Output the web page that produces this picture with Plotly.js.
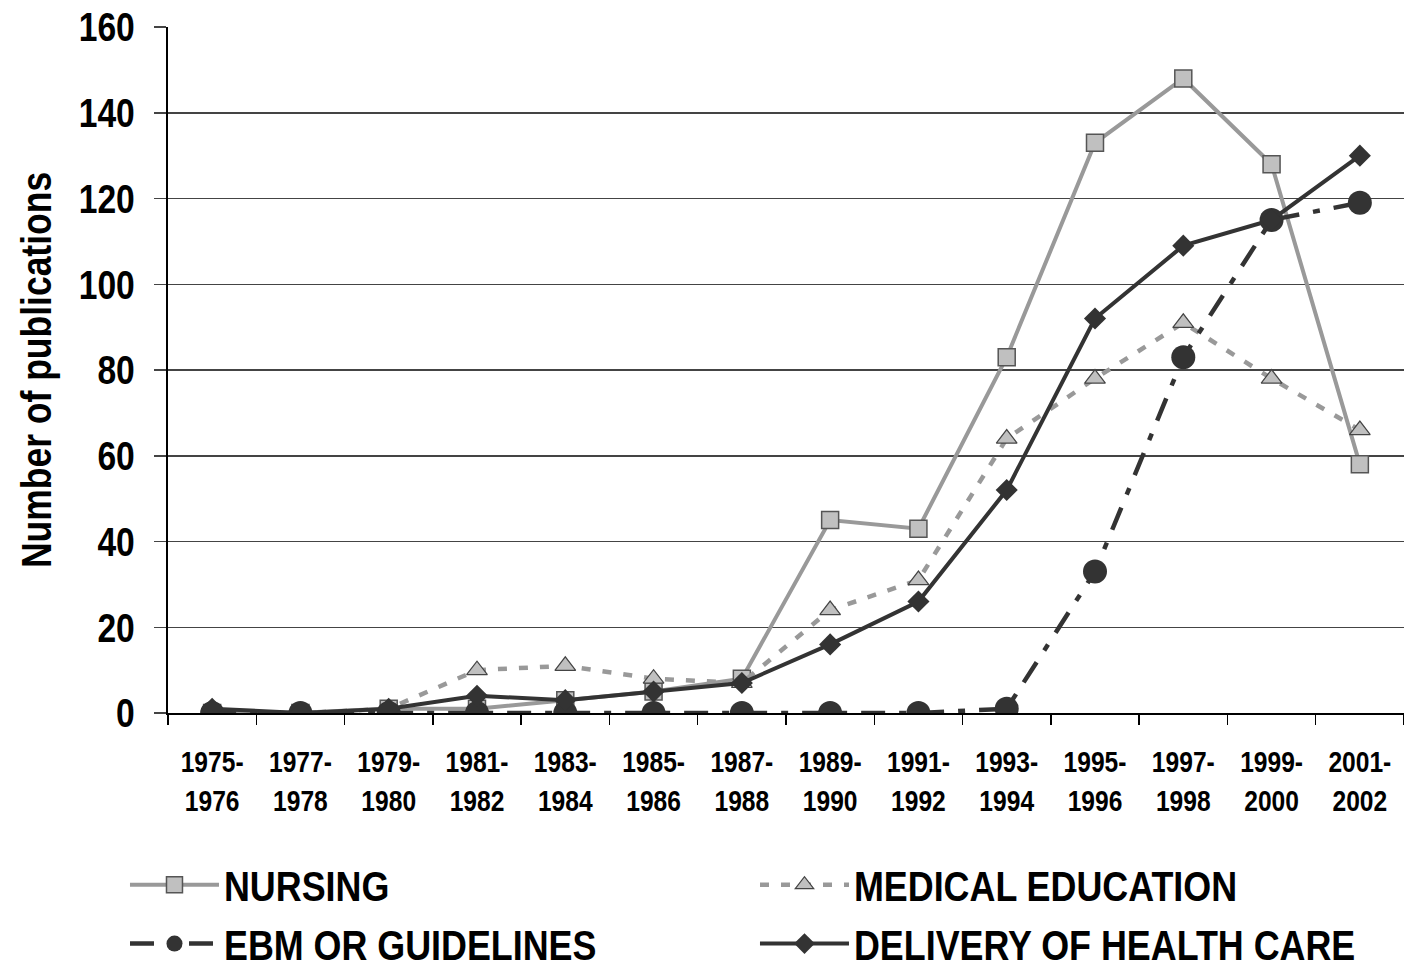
<!DOCTYPE html>
<html>
<head>
<meta charset="utf-8">
<script src="https://cdn.plot.ly/plotly-3.0.1.min.js"></script>
<style>
html,body{margin:0;padding:0;background:#fff;}
#chart{width:1404px;height:968px;}
</style>
</head>
<body>
<div id="chart"></div>
<script>
var categories = ["1975-<br>1976","1977-<br>1978","1979-<br>1980","1981-<br>1982","1983-<br>1984","1985-<br>1986","1987-<br>1988","1989-<br>1990","1991-<br>1992","1993-<br>1994","1995-<br>1996","1997-<br>1998","1999-<br>2000","2001-<br>2002"];
var nursing = [0,0,1,1,3,5,8,45,43,83,133,148,128,58];
var medicalEducation = [0,0,1,10,11,8,7,24,31,64,78,91,78,66];
var ebm = [0,0,0,0,0,0,0,0,0,1,33,83,115,119];
var delivery = [1,0,1,4,3,5,7,16,26,52,92,109,115,130];
var yTicks = [0,20,40,60,80,100,120,140,160];

var FONT = "Liberation Sans, Arial, sans-serif";

var traces = [
  {x: categories, y: nursing, name: "NURSING", type: "scatter", mode: "lines+markers",
   line: {color: "#999999", width: 4},
   marker: {symbol: "square", size: 17, color: "#c0c0c0", line: {color: "#555555", width: 1.5}}},
  {x: categories, y: medicalEducation, name: "MEDICAL EDUCATION", type: "scatter", mode: "lines+markers",
   line: {color: "#999999", width: 4.5, dash: "9px,12px"},
   marker: {symbol: "triangle-up", size: 18, color: "#c0c0c0", line: {color: "#444444", width: 1.2}}},
  {x: categories, y: ebm, name: "EBM OR GUIDELINES", type: "scatter", mode: "lines+markers",
   line: {color: "#333333", width: 4.5, dash: "24px,14px,7px,14px"},
   marker: {symbol: "circle", size: 24, color: "#333333"}},
  {x: categories, y: delivery, name: "DELIVERY OF HEALTH CARE", type: "scatter", mode: "lines+markers",
   line: {color: "#333333", width: 4},
   marker: {symbol: "diamond", size: 17, color: "#333333"}}
];

var layout = {
  width: 1404, height: 968,
  paper_bgcolor: "#ffffff", plot_bgcolor: "#ffffff",
  margin: {l: 168, r: 0, t: 27, b: 255, autoexpand: false},
  font: {family: FONT, color: "#000000"},
  showlegend: true,
  legend: {
    orientation: "h", xref: "paper", yref: "paper",
    x: -0.0348, y: -0.2, xanchor: "left", yanchor: "top",
    entrywidth: 526, entrywidthmode: "pixels", itemwidth: 89,
    tracegroupgap: 0,
    font: {family: FONT, size: 43, color: "#000000", weight: "bold"}
  },
  xaxis: {
    type: "category", range: [-0.5, 13.5], tickangle: 0,
    showgrid: false, showline: true, linecolor: "#000000", linewidth: 2,
    ticks: "outside", ticklen: 10, tickcolor: "#000000", tickwidth: 1.5,
    tickson: "boundaries", ticklabelstandoff: 21,
    tickfont: {family: FONT, size: 30, color: "#000000", weight: "bold"},
    zeroline: false, fixedrange: true, automargin: false
  },
  yaxis: {
    range: [0, 160], tickvals: yTicks,
    showgrid: true, gridcolor: "#444444", gridwidth: 1.5,
    showline: true, linecolor: "#000000", linewidth: 2,
    ticks: "outside", ticklen: 12, tickcolor: "#444444", tickwidth: 1.5,
    ticklabelstandoff: 11, automargin: false,
    tickfont: {family: FONT, size: 41, color: "#000000", weight: "bold"},
    zeroline: false,
    title: {text: "Number of publications", standoff: 2,
            font: {family: FONT, size: 42, color: "#000000", weight: "bold"}}
  }
};

// horizontal condensing factors (imitating a narrow bold face)
var condenseRules = [
  {sel: ".legendtext", k: 0.834},
  {sel: ".ytitle", k: 0.845},
  {sel: ".xtick text, .ytick text", k: 0.82}
];

function condenseText(gd) {
  condenseRules.forEach(function (rule) {
    gd.querySelectorAll(rule.sel).forEach(function (t) {
      var x = parseFloat(t.getAttribute("x")) || 0;
      var y = parseFloat(t.getAttribute("y")) || 0;
      var tr = t.getAttribute("transform") || "";
      t.setAttribute("transform", tr + " translate(" + x + "," + y + ") scale(" + rule.k + ",1) translate(" + (-x) + "," + (-y) + ")");
    });
  });
}

Plotly.newPlot("chart", traces, layout, {displayModeBar: false, staticPlot: true}).then(condenseText);
</script>
</body>
</html>
